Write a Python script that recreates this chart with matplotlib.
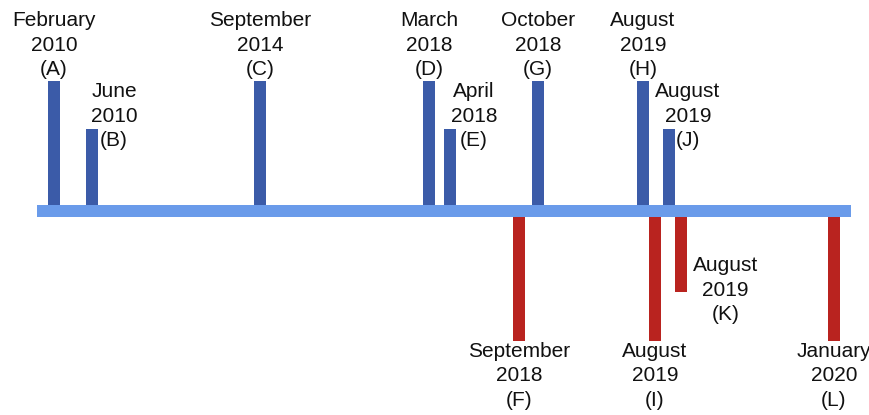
import matplotlib
matplotlib.use('Agg')
import matplotlib.pyplot as plt

plt.rcParams['font.family'] = ['Liberation Sans', 'DejaVu Sans']

# events along the timeline (position on the line, bar length, above/below)
labels = ['A', 'B', 'C', 'D', 'E', 'F', 'G', 'H', 'I', 'J', 'K', 'L']
dates = ['February\n2010', 'June\n2010', 'September\n2014', 'March\n2018',
         'April\n2018', 'September\n2018', 'October\n2018', 'August\n2019',
         'August\n2019', 'August\n2019', 'August\n2019', 'January\n2020']
pos = [54, 92, 260, 429, 450, 519, 538, 643, 655, 669, 681, 834]
length = [130, 82, 130, 130, 82, 130, 130, 130, 130, 82, 81, 130]
side = [1, 1, 1, 1, 1, -1, 1, 1, -1, 1, -1, -1]

BLUE = '#3b5ba8'
RED = '#b9231f'
LINE = '#6a9bea'
FS = 15

# label offsets for the short bars (text sits to the right of the bar)
SIDE_DX = {'B': 22, 'E': 24, 'J': 19}
K_DX = 12


def main():
    fig = plt.figure(figsize=(8.7, 4.15), dpi=100)
    ax = fig.add_axes([0, 0, 1, 1])
    ax.set_xlim(0, 870)
    ax.set_ylim(-204, 211)
    ax.axis('off')

    heights = [l * s for l, s in zip(length, side)]
    colors = [BLUE if s > 0 else RED for s in side]
    ax.bar(pos, heights, width=12.5, color=colors, zorder=1)

    # timeline itself
    ax.barh(0, 814, left=37, height=12, color=LINE, zorder=2)

    for lab, d, x, h, s in zip(labels, dates, pos, length, side):
        txt = f'{d}\n({lab})'
        kw = dict(fontsize=FS, linespacing=1.36, color='#111111',
                  multialignment='center')
        if s > 0 and h > 100:
            ax.text(x, h + 2, txt, ha='center', va='bottom', **kw)
        elif s > 0:
            ax.text(x + SIDE_DX[lab], h + 13, txt, ha='center', va='center', **kw)
        elif h > 100:
            ax.text(x, -h - 1, txt, ha='center', va='top', **kw)
        else:
            ax.text(x + K_DX, -h + 2, txt, ha='left', va='center', **kw)

    fig.savefig('out.png', dpi=100)
    plt.close(fig)


if __name__ == '__main__':
    main()
